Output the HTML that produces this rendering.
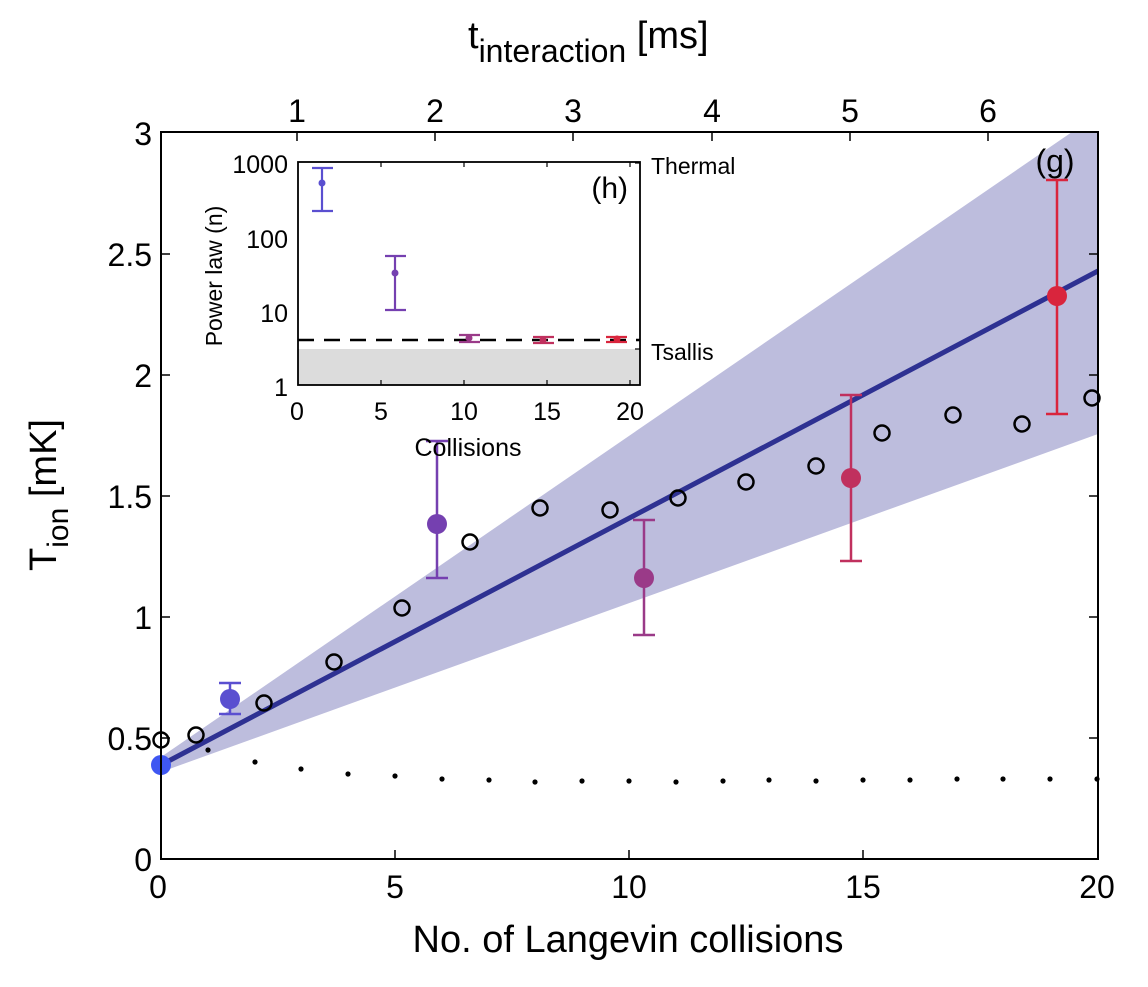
<!DOCTYPE html>
<html><head><meta charset="utf-8"><style>body{margin:0;background:#fff}svg{display:block}text{font-family:"Liberation Sans",Arial,sans-serif;fill:#000}</style></head>
<body>
<svg width="1148" height="987" viewBox="0 0 1148 987" xmlns="http://www.w3.org/2000/svg">
<defs><clipPath id="c"><rect x="161" y="132" width="937" height="727"/></clipPath></defs>
<g clip-path="url(#c)">
<polygon points="161,757 1072,132 1098,132 1098,434 161,772" fill="#bdbddd"/>
<line x1="161" y1="765" x2="1098" y2="271" stroke="#2e3192" stroke-width="5"/>
</g>
<g fill="#000">
<circle cx="208" cy="750" r="2.6"/><circle cx="255" cy="762" r="2.6"/><circle cx="301" cy="769" r="2.6"/><circle cx="348" cy="774" r="2.6"/><circle cx="395" cy="776" r="2.6"/><circle cx="442" cy="779" r="2.6"/><circle cx="489" cy="780" r="2.6"/><circle cx="535" cy="782" r="2.6"/><circle cx="582" cy="781" r="2.6"/><circle cx="629" cy="781" r="2.6"/><circle cx="676" cy="782" r="2.6"/><circle cx="723" cy="781" r="2.6"/><circle cx="769" cy="780" r="2.6"/><circle cx="816" cy="781" r="2.6"/><circle cx="863" cy="780" r="2.6"/><circle cx="910" cy="780" r="2.6"/><circle cx="957" cy="779" r="2.6"/><circle cx="1003" cy="779" r="2.6"/><circle cx="1050" cy="779" r="2.6"/><circle cx="1097" cy="779" r="2.6"/>
</g>
<g fill="none" stroke="#000" stroke-width="2.5">
<circle cx="161" cy="740" r="7.5"/><circle cx="196" cy="735" r="7.5"/><circle cx="264" cy="703" r="7.5"/><circle cx="334" cy="662" r="7.5"/><circle cx="402" cy="608" r="7.5"/><circle cx="470" cy="542" r="7.5"/><circle cx="540" cy="508" r="7.5"/><circle cx="610" cy="510" r="7.5"/><circle cx="678" cy="498" r="7.5"/><circle cx="746" cy="482" r="7.5"/><circle cx="816" cy="466" r="7.5"/><circle cx="882" cy="433" r="7.5"/><circle cx="953" cy="415" r="7.5"/><circle cx="1022" cy="424" r="7.5"/><circle cx="1092" cy="398" r="7.5"/>
</g>
<g stroke-width="2.5">
<circle cx="161" cy="765" r="10" fill="#3f57f2"/>
<g stroke="#5a4fd0" fill="#5a4fd0"><line x1="230" y1="683" x2="230" y2="714"/><line x1="219" y1="683" x2="241" y2="683"/><line x1="219" y1="714" x2="241" y2="714"/><circle cx="230" cy="699" r="10" stroke="none"/></g>
<g stroke="#7540b0" fill="#7540b0"><line x1="437" y1="441" x2="437" y2="578"/><line x1="426" y1="441" x2="448" y2="441"/><line x1="426" y1="578" x2="448" y2="578"/><circle cx="437" cy="524" r="10" stroke="none"/></g>
<g stroke="#9a3a88" fill="#9a3a88"><line x1="644" y1="520" x2="644" y2="635"/><line x1="633" y1="520" x2="655" y2="520"/><line x1="633" y1="635" x2="655" y2="635"/><circle cx="644" cy="578" r="10" stroke="none"/></g>
<g stroke="#c0305e" fill="#c0305e"><line x1="851" y1="395" x2="851" y2="561"/><line x1="840" y1="395" x2="862" y2="395"/><line x1="840" y1="561" x2="862" y2="561"/><circle cx="851" cy="478" r="10" stroke="none"/></g>
<g stroke="#d9253d" fill="#d9253d"><line x1="1057" y1="180" x2="1057" y2="414"/><line x1="1046" y1="180" x2="1068" y2="180"/><line x1="1046" y1="414" x2="1068" y2="414"/><circle cx="1057" cy="296" r="10" stroke="none"/></g>
</g>
<rect x="161" y="132" width="937" height="727" fill="none" stroke="#000" stroke-width="2"/>
<g stroke="#000" stroke-width="1.5">
<line x1="395" y1="859" x2="395" y2="850"/><line x1="629" y1="859" x2="629" y2="850"/><line x1="863" y1="859" x2="863" y2="850"/>
<line x1="161" y1="738" x2="170" y2="738"/><line x1="161" y1="617" x2="170" y2="617"/><line x1="161" y1="496" x2="170" y2="496"/><line x1="161" y1="375" x2="170" y2="375"/><line x1="161" y1="254" x2="170" y2="254"/>
<line x1="1098" y1="738" x2="1089" y2="738"/><line x1="1098" y1="617" x2="1089" y2="617"/><line x1="1098" y1="496" x2="1089" y2="496"/><line x1="1098" y1="375" x2="1089" y2="375"/><line x1="1098" y1="254" x2="1089" y2="254"/>
<line x1="297" y1="132" x2="297" y2="141"/><line x1="435" y1="132" x2="435" y2="141"/><line x1="573" y1="132" x2="573" y2="141"/><line x1="712" y1="132" x2="712" y2="141"/><line x1="850" y1="132" x2="850" y2="141"/><line x1="988" y1="132" x2="988" y2="141"/>
</g>
<g font-size="32" text-anchor="middle">
<text x="158" y="898">0</text><text x="395" y="898">5</text><text x="629" y="898">10</text><text x="863" y="898">15</text><text x="1097" y="898">20</text>
<text x="297" y="122">1</text><text x="435" y="122">2</text><text x="573" y="122">3</text><text x="712" y="122">4</text><text x="850" y="122">5</text><text x="988" y="122">6</text>
</g>
<g font-size="32" text-anchor="end">
<text x="152" y="871">0</text><text x="152" y="750">0.5</text><text x="152" y="629">1</text><text x="152" y="508">1.5</text><text x="152" y="387">2</text><text x="152" y="266">2.5</text><text x="152" y="145">3</text>
</g>
<text x="628" y="952" font-size="38" text-anchor="middle">No. of Langevin collisions</text>
<text x="468" y="48" font-size="38">t<tspan font-size="32" dy="14">interaction</tspan><tspan dy="-14" font-size="38"> [ms]</tspan></text>
<text transform="translate(56,495) rotate(-90)" font-size="38" text-anchor="middle">T<tspan font-size="30" dy="12">ion</tspan><tspan dy="-12"> [mK]</tspan></text>
<text x="1055" y="172" font-size="32" text-anchor="middle">(g)</text>
<!-- inset -->
<rect x="298" y="162" width="342" height="223" fill="#fff"/>
<rect x="298" y="349" width="342" height="36" fill="#dcdcdc"/>
<line x1="298" y1="340" x2="640" y2="340" stroke="#000" stroke-width="2.5" stroke-dasharray="16,10"/>
<g stroke-width="2.2">
<g stroke="#5a4fd0" fill="#5a4fd0"><line x1="322" y1="168" x2="322" y2="211"/><line x1="312" y1="168" x2="333" y2="168"/><line x1="312" y1="211" x2="333" y2="211"/><circle cx="322" cy="183" r="3.5" stroke="none"/></g>
<g stroke="#7540b0" fill="#7540b0"><line x1="395" y1="256" x2="395" y2="310"/><line x1="385" y1="256" x2="406" y2="256"/><line x1="385" y1="310" x2="406" y2="310"/><circle cx="395" cy="273" r="3.5" stroke="none"/></g>
<g stroke="#9a3a88" fill="#9a3a88"><line x1="469" y1="335" x2="469" y2="342"/><line x1="459" y1="335" x2="480" y2="335"/><line x1="459" y1="342" x2="480" y2="342"/><circle cx="469" cy="338" r="3.5" stroke="none"/></g>
<g stroke="#c0305e" fill="#c0305e"><line x1="543" y1="337" x2="543" y2="343"/><line x1="533" y1="337" x2="554" y2="337"/><line x1="533" y1="343" x2="554" y2="343"/><circle cx="543" cy="340" r="3.5" stroke="none"/></g>
<g stroke="#d9253d" fill="#d9253d"><line x1="617" y1="337" x2="617" y2="342"/><line x1="606" y1="337" x2="627" y2="337"/><line x1="606" y1="342" x2="627" y2="342"/><circle cx="617" cy="339" r="3.5" stroke="none"/></g>
</g>
<rect x="298" y="162" width="342" height="223" fill="none" stroke="#000" stroke-width="1.8"/>
<g stroke="#000" stroke-width="1.2">
<line x1="381" y1="385" x2="381" y2="380"/><line x1="464" y1="385" x2="464" y2="380"/><line x1="547" y1="385" x2="547" y2="380"/><line x1="630" y1="385" x2="630" y2="380"/>
<line x1="381" y1="162" x2="381" y2="167"/><line x1="464" y1="162" x2="464" y2="167"/><line x1="547" y1="162" x2="547" y2="167"/><line x1="630" y1="162" x2="630" y2="167"/>
<line x1="640" y1="349" x2="635" y2="349"/><line x1="640" y1="163" x2="635" y2="163"/>
</g>
<g font-size="25" text-anchor="middle">
<text x="297" y="420">0</text><text x="381" y="420">5</text><text x="464" y="420">10</text><text x="547" y="420">15</text><text x="630" y="420">20</text>
</g>
<g font-size="25" text-anchor="end">
<text x="288" y="173">1000</text><text x="288" y="248">100</text><text x="288" y="322">10</text><text x="288" y="396">1</text>
</g>
<text x="468" y="456" font-size="25" text-anchor="middle">Collisions</text>
<text transform="translate(222,276) rotate(-90)" font-size="23" text-anchor="middle">Power law (n)</text>
<text x="628" y="198" font-size="30" text-anchor="end">(h)</text>
<text x="651" y="174" font-size="23">Thermal</text>
<text x="651" y="360" font-size="23">Tsallis</text>
</svg>
</body></html>
